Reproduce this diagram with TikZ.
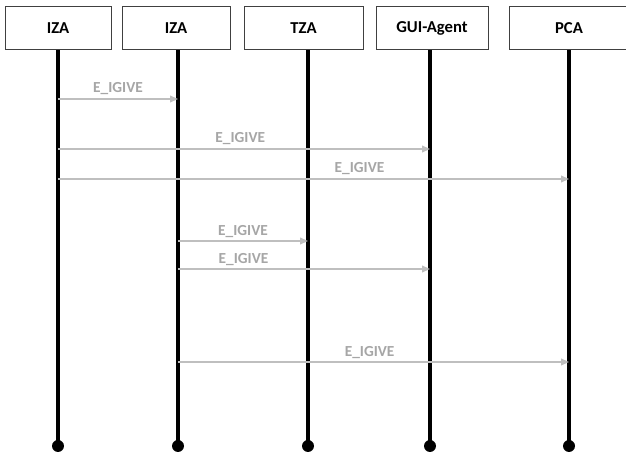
\documentclass[tikz,border=0pt]{standalone}
\usepackage{fontspec}
\setmainfont{Carlito}
\usetikzlibrary{arrows.meta}

\definecolor{msggray}{RGB}{191,191,191}
\definecolor{lblgray}{RGB}{166,166,166}

\tikzset{every picture/.style={line width=0.75pt}}
\tikzset{
  hdbox/.style={draw={rgb, 255:red, 64; green, 64; blue, 64}, line width=0.75pt, minimum height=43*0.75pt, inner sep=0pt, font=\fontsize{12.5}{15}\selectfont\bfseries},
  lifeln/.style={line width=2.4pt, black},
  enddot/.style={circle, fill=black, inner sep=0pt, minimum size=9},
  msg/.style={draw=msggray, line width=1.3pt, -{Triangle[length=6pt,width=5pt]}},
  msglbl/.style={text=lblgray, font=\fontsize{11.5}{13}\selectfont\bfseries, inner sep=0.75pt, anchor=south}
}

\begin{document}
\begin{tikzpicture}[x=0.75pt,y=0.75pt,yscale=-1,xscale=1]
\useasboundingbox (0,0) rectangle (626,452);

% Header boxes
\node [hdbox, minimum width=106*0.75pt] (h1) at (58,28.5) {IZA};
\node [hdbox, minimum width=108*0.75pt] (h2) at (176,28.5) {IZA};
\node [hdbox, minimum width=119*0.75pt] (h3) at (303.5,28.5) {TZA};
\node [hdbox, minimum width=112*0.75pt] (h4) at (432,28.5) {GUI-Agent};
\node [hdbox, minimum width=120*0.75pt] (h5) at (569,28.5) {PCA};

% End dots
\node [enddot] (d1) at (58,446) {};
\node [enddot] (d2) at (178,446) {};
\node [enddot] (d3) at (308,446) {};
\node [enddot] (d4) at (430,446) {};
\node [enddot] (d5) at (569,446) {};

% Lifelines
\draw [lifeln] (d1 |- h1.south) -- (d1.center) ;
\draw [lifeln] (d2 |- h2.south) -- (d2.center) ;
\draw [lifeln] (d3 |- h3.south) -- (d3.center) ;
\draw [lifeln] (d4 |- h4.south) -- (d4.center) ;
\draw [lifeln] (d5 |- h5.south) -- (d5.center) ;

% Messages
\draw [msg] (d1 |- 0,99) -- (d2 |- 0,99) node [msglbl, midway, above=1.5pt] {E\_IGIVE} ;
\draw [msg] (d1 |- 0,149) -- (d4 |- 0,149) node [msglbl, pos=0.49, above=1.5pt] {E\_IGIVE} ;
\draw [msg] (d1 |- 0,179) -- (d5 |- 0,179) node [msglbl, pos=0.59, above=1.5pt] {E\_IGIVE} ;
\draw [msg] (d2 |- 0,241) -- (d3 |- 0,241) node [msglbl, midway, above=1pt] {E\_IGIVE} ;
\draw [msg] (d2 |- 0,269) -- (d4 |- 0,269) node [msglbl, pos=0.26, above=1pt] {E\_IGIVE} ;
\draw [msg] (d2 |- 0,362) -- (d5 |- 0,362) node [msglbl, pos=0.49, above=1pt] {E\_IGIVE} ;

\end{tikzpicture}
\end{document}
